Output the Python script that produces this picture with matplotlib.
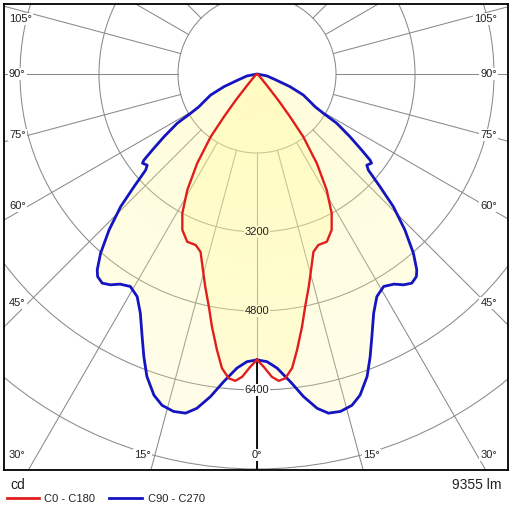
import numpy as np
import matplotlib
matplotlib.use("Agg")
import matplotlib.pyplot as plt
from matplotlib.patches import Circle, Polygon
from matplotlib.lines import Line2D

plt.rcParams['font.family'] = ['Liberation Sans', 'DejaVu Sans']

# luminous intensity (cd) against gamma angle (deg), one half of each plane
red_gamma = [0, 1.3, 2.8, 4.05, 5.3, 6.8, 8.25, 10.1, 11.7, 13.7, 15.4, 17.6,
             19.7, 22.6, 25.6, 28.2, 31.0, 33.8, 36.4, 37.7, 39.0, 40.5, 43.0,
             55.0, 90.0]
red_cd = [5790, 5930, 6140, 6230, 6190, 6000, 5650, 5200, 4810, 4430, 4120, 3780,
          3680, 3680, 3500, 3200, 2740, 2180, 1580, 1090, 700, 350, 150,
          30, 0]

blue_gamma = [0, 2.0, 3.9, 6.2, 8.2, 10.2, 11.9, 13.9, 16.0, 17.8, 20.0, 21.8,
              23.6, 26.0, 28.3, 30.8, 33.1, 34.8, 36.5, 38.2, 39.2, 41.1, 43.5,
              45.8, 47.5, 49.2, 50.3, 52.1, 52.7, 54.0, 56.0, 58.3, 59.4, 60.6,
              61.8, 65.6, 69.0, 72.5, 79.0, 90.0]
blue_cd = [5790, 5830, 5970, 6270, 6600, 6880, 7020, 7040, 6980, 6830, 6520, 6170,
           5810, 5390, 5120, 5010, 5080, 5200, 5270, 5220, 5120, 4820, 4350,
           3850, 3380, 2980, 2890, 2940, 2880, 2620, 2270, 1900, 1560, 1350,
           1260, 1030, 716, 404, 206, 0]

ring_values = [1600, 3200, 4800, 6400, 8000, 9600]
ring_labels = [3200, 4800, 6400]
angle_labels = [0, 15, 30, 45, 60, 75, 90, 105]
legend_names = ["C0 - C180", "C90 - C270"]
flux_text = "9355 lm"
unit_text = "cd"

RED = '#e01e1e'
BLUE = '#1414c0'
GRID = '#8a8a8a'

# pixel geometry of the plot box
k = 1600 / 79.0          # cd per pixel
cx, cy = 257, 74
left, right, top, bottom = 4, 508, 4, 470


def px2data(px, py):
    return (px - cx) * k, -(py - cy) * k


def closed_curve(gam, cd):
    g = np.radians(np.array(gam))
    r = np.array(cd, dtype=float)
    xr, yr = r * np.sin(g), -r * np.cos(g)
    xs = np.concatenate([xr, -xr[::-1]])
    ys = np.concatenate([yr, yr[::-1]])
    return xs, ys


fig = plt.figure(figsize=(5.12, 5.12), dpi=100)
ax = fig.add_axes([left / 512, (512 - bottom) / 512,
                   (right - left) / 512, (bottom - top) / 512])
x0, y1 = px2data(left, top)
x1, y0 = px2data(right, bottom)

# grid rings and radial lines
for rv in ring_values:
    ax.add_patch(Circle((0, 0), rv, fill=False, ec=GRID, lw=0.75, zorder=1))
for a in range(0, 181, 15):
    g = np.radians(a)
    for s in (1, -1):
        ax.plot([s * 1600 * np.sin(g), s * 14000 * np.sin(g)],
                [-1600 * np.cos(g), -14000 * np.cos(g)],
                color=GRID, lw=0.75, zorder=1)
ax.plot([0, 0], [-blue_cd[0], -14000], color='black', lw=1.3, zorder=1.2)

# gradient fills clipped to the curves
gx, gy = np.meshgrid(np.linspace(x0, x1, 400), np.linspace(y0, y1, 400))
rr = np.hypot(gx, gy)
alpha = 0.36 - 0.14 * np.clip(rr / 6500, 0, 1)
img = np.zeros(gx.shape + (4,))
img[..., 0] = 1.0
img[..., 1] = 250 / 255
img[..., 2] = 150 / 255
img[..., 3] = alpha

curves = [(blue_gamma, blue_cd, BLUE, 2.0), (red_gamma, red_cd, RED, 1.7)]
for gam, cd, col, lw in curves:
    xs, ys = closed_curve(gam, cd)
    patch = Polygon(np.column_stack([xs, ys]), closed=True, fc='none', ec='none')
    ax.add_patch(patch)
    im = ax.imshow(img, extent=(x0, x1, y0, y1), origin='lower',
                   interpolation='bilinear', zorder=2)
    im.set_clip_path(patch)
for gam, cd, col, lw in curves:
    xs, ys = closed_curve(gam, cd)
    ax.plot(np.append(xs, xs[0]), np.append(ys, ys[0]), color=col, lw=lw,
            zorder=3, solid_joinstyle='round')

# ring labels: white box under the fill hides grid lines, text on top
for rv in ring_labels:
    ax.text(0, -rv, str(rv), fontsize=8, ha='center', va='center', color='none',
            zorder=1.5, bbox=dict(fc='white', ec='none', pad=0.6))
    ax.text(0, -rv, str(rv), fontsize=8, ha='center', va='center',
            color='#222222', zorder=4)

# angle labels along the frame
for a in angle_labels:
    g = np.radians(a)
    if a < 30:
        py = 455
        for s in ((1, -1) if a else (0,)):
            px = cx + s * ((bottom - cy) * np.tan(g) + 8)
            X, Y = px2data(px, py)
            ax.text(X, Y, f"{a}°", fontsize=8, ha='center', va='center',
                    color='#222222', zorder=4,
                    bbox=dict(fc='white', ec='none', pad=0.8))
    else:
        py = cy + 229 * np.cos(g) / np.sin(g)
        py = min(max(py, 19), 455)
        for px, ha in ((9, 'left'), (497, 'right')):
            X, Y = px2data(px, py)
            ax.text(X, Y, f"{a}°", fontsize=8, ha=ha, va='center',
                    color='#222222', zorder=4,
                    bbox=dict(fc='white', ec='none', pad=0.8))

ax.set_xlim(x0, x1)
ax.set_ylim(y0, y1)
ax.set_aspect('auto')
ax.set_xticks([])
ax.set_yticks([])
for sp in ax.spines.values():
    sp.set_color('black')
    sp.set_linewidth(1.3)

# legend and footer text below the box
fig.text(10 / 512, 1 - 485 / 512, unit_text, fontsize=10, ha='left', va='center',
         color='#222222')
fig.text(502 / 512, 1 - 485 / 512, flux_text, fontsize=10, ha='right', va='center',
         color='#222222')
for (x_a, x_b, x_t), name, col in zip([(7, 39, 44), (109, 142, 148)],
                                      legend_names, [RED, BLUE]):
    fig.add_artist(Line2D([x_a / 512, x_b / 512], [1 - 498 / 512] * 2,
                          color=col, lw=2.0, transform=fig.transFigure))
    fig.text(x_t / 512, 1 - 499 / 512, name, fontsize=8, ha='left', va='center',
             color='#222222')

fig.savefig('out.png', dpi=100, facecolor='white')
